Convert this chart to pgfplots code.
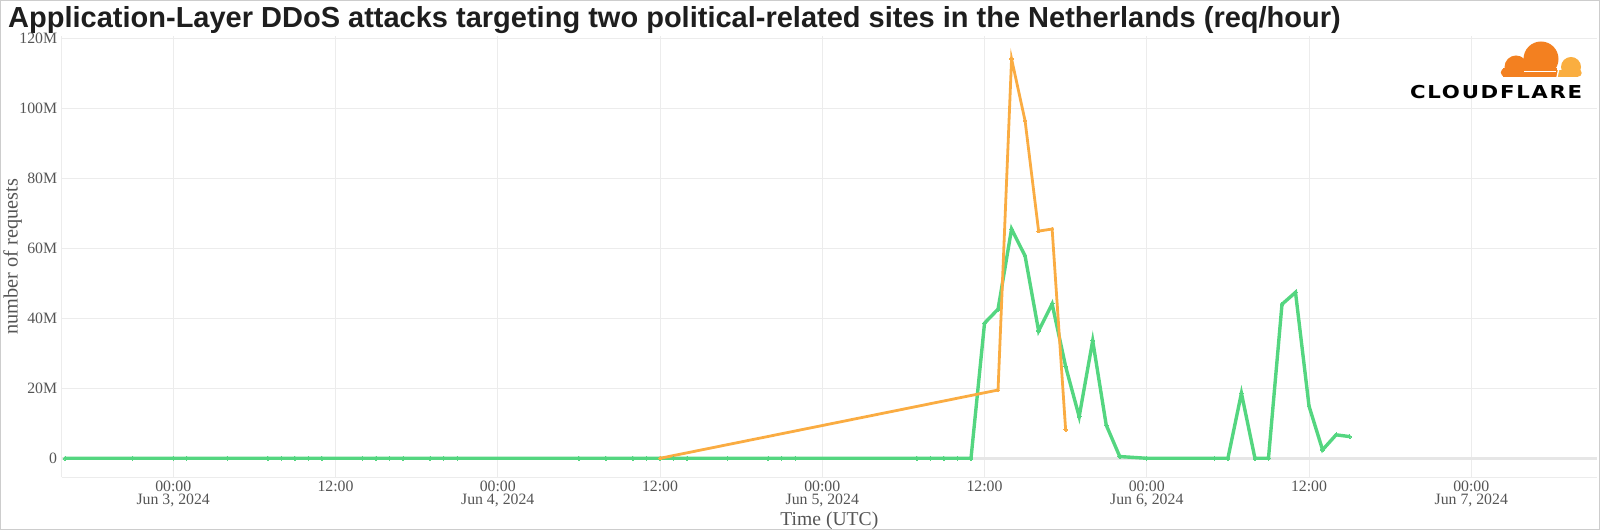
\documentclass[border=0pt]{standalone}
\usepackage{fontspec}
\setmainfont{Liberation Serif}
\setsansfont{Liberation Sans}
\newfontfamily\logofont{DejaVu Sans}
\usepackage{graphicx}
\usepackage{pgfplots}
\pgfplotsset{compat=1.18}
\definecolor{cfgreen}{RGB}{84,214,128}
\definecolor{cforange}{RGB}{250,172,66}
\definecolor{gridc}{RGB}{236,236,236}
\definecolor{zeroc}{RGB}{230,230,230}
\definecolor{tickc}{RGB}{85,85,85}
\definecolor{cfdark}{RGB}{243,128,32}
\definecolor{cflight}{RGB}{250,174,64}
\definecolor{framec}{RGB}{205,205,205}

\pgfplotstableread{
h v
-8 0
-3 0
0 0
1 0
4 0
7 0
8 0
9 0
10 0
11 0
14 0
15 0
16 0
17 0
19 0
20 0
21 0
30 0
32 0
34 0
35 0
36 0
37 0
38 0
41 0
44 0
45 0
46 0
55 0
56 0
57 0
58 0
59 0
60 38.6
61 42.6
62 65.5
63 57.8
64 36.4
65 44.1
66 26.2
67 11.9
68 33.6
69 9.5
70 0.5
72 0
77 0
78 0
79 18.6
80 0
81 0
82 44.0
83 47.4
84 14.9
85 2.4
86 6.7
87 6.2
}\greendata

\pgfplotstableread{
h v
36 0
61 19.5
62 114.1
63 96.4
64 64.9
65 65.5
66 8.1
}\orangedata

\begin{document}
\begin{tikzpicture}[x=1bp,y=1bp]
\path[use as bounding box] (0,0) rectangle (1600,530);
\draw[framec, line width=1.2bp] (0.6,0.6) rectangle (1599.4,529.4);
\node[anchor=base west, inner sep=0pt, text={rgb,255:red,30;green,30;blue,30}] at (8,502.5)
  {\fontsize{29bp}{34bp}\selectfont\sffamily\bfseries Application-Layer DDoS attacks targeting two political-related sites in the Netherlands (req/hour)};
\begin{axis}[
  at={(61.7bp,52.7bp)}, anchor=south west,
  scale only axis, width=1535.3bp, height=440.8bp,
  xmin=-8.25, xmax=105.3, ymin=-5.43, ymax=120.5,
  axis line style={draw=none},
  major tick length=0pt,
  xtick={0,12,24,36,48,60,72,84,96},
  xticklabels={{00:00\\Jun 3, 2024},{12:00},{00:00\\Jun 4, 2024},{12:00},{00:00\\Jun 5, 2024},{12:00},{00:00\\Jun 6, 2024},{12:00},{00:00\\Jun 7, 2024}},
  ytick={0,20,40,60,80,100,120},
  yticklabels={0,20M,40M,60M,80M,100M,120M},
  extra y ticks={0}, extra y tick labels={},
  extra y tick style={grid=major, major grid style={draw=zeroc, line width=2.6bp}},
  grid=major,
  major grid style={draw=gridc, line width=1bp},
  xticklabel style={anchor=north, inner sep=0pt, yshift=-3.4bp, align=center, text=tickc, font=\fontsize{15.8bp}{13.2bp}\selectfont},
  yticklabel style={anchor=east, inner sep=0pt, xshift=-4.4bp, text=tickc, font=\fontsize{15.8bp}{17bp}\selectfont},
  xlabel={Time (UTC)},
  ylabel={number of requests},
  every axis x label/.style={at={(rel axis cs:0.5,0)}, anchor=center, yshift=-43.5bp, text=tickc, font=\fontsize{19.6bp}{22bp}\selectfont},
  every axis y label/.style={at={(rel axis cs:0,0.5)}, xshift=-49bp, rotate=90, anchor=center, text=tickc, font=\fontsize{20.3bp}{22bp}\selectfont},
  clip=false,
]
\draw[gridc, line width=1.2bp] (rel axis cs:0,0) -- (rel axis cs:1,0);
\draw[gridc, line width=1.2bp] (rel axis cs:0,0) -- (rel axis cs:0,1);
\addplot[cfgreen, line width=3.4bp, mark=*, mark size=1.9bp, mark options={solid, fill=cfgreen, draw=cfgreen, line width=0pt}] table[x=h, y=v] {\greendata};
\addplot[cforange, line width=2.8bp, mark=*, mark size=1.7bp, mark options={solid, fill=cforange, draw=cforange, line width=0pt}] table[x=h, y=v] {\orangedata};
\end{axis}
% Cloudflare logo
\begin{scope}
\clip (1490,453.3) rectangle (1590,495);
\fill[cflight] (1571,463) circle (10);
\fill[cflight] (1556,453.3) rectangle (1578,460);
\fill[cflight] (1578,457) circle (3.7);
\fill[cfdark] (1541,471) circle (17.5);
\fill[cfdark] (1516,463) circle (11.5);
\fill[cfdark] (1503,453.3) rectangle (1557,462);
\fill[cfdark] (1505,457.5) circle (4.2);
\draw[white, line width=1.3bp] (1524,458.5) -- (1556,458.5);
\draw[white, line width=1.3bp] (1557,453) -- (1560,466);
\end{scope}
\node[anchor=base west, inner sep=0pt] at (1410,431.5)
  {\resizebox{172bp}{13.2bp}{\logofont\bfseries\addfontfeature{LetterSpace=8}CLOUDFLARE}};
\end{tikzpicture}
\end{document}
